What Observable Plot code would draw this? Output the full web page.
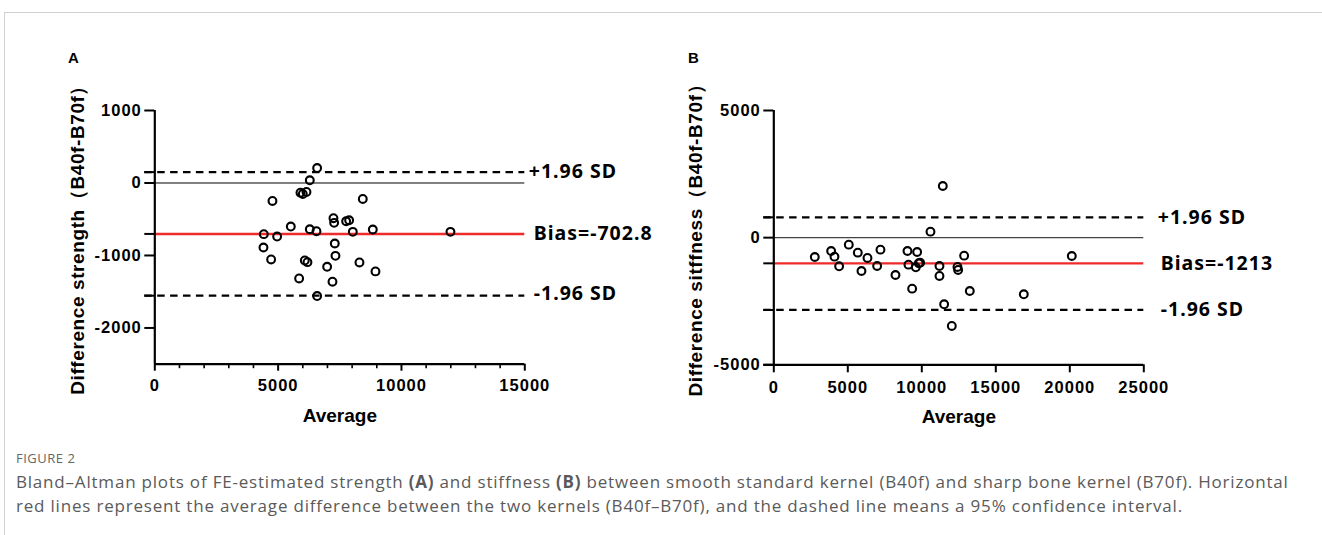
<!DOCTYPE html>
<html>
<head>
<meta charset="utf-8">
<script src="https://cdn.jsdelivr.net/npm/d3@7"></script>
<script src="https://cdn.jsdelivr.net/npm/@observablehq/plot@0.6"></script>
<style>
  html, body { margin: 0; padding: 0; background: #fff; }
  #root { position: relative; width: 1322px; height: 535px; overflow: hidden; background: #fff; }
  #frame { position: absolute; left: 4px; top: 12px; right: -2px; bottom: -2px; border-top: 1px solid #d0d0d0; border-left: 1px solid #d0d0d0; }
  .panel { position: absolute; top: 0; }
  .tag { position: absolute; top: 49px; font: bold 15px Arial, "Liberation Sans", sans-serif; color: #000; }
  #cap { position: absolute; left: 16px; top: 449px; font-family: "Open Sans", "Noto Sans", sans-serif; color: #555; }
  #cap .fig { font-size: 13px; color: #666; letter-spacing: 0.5px; }
  #cap .txt { font-size: 17px; line-height: 23.5px; margin-top: 3px; color: #5a5a5a; letter-spacing: 0.8px; }
  .panel svg g[aria-label="y-axis tick label"] text,
  .panel svg g[aria-label="x-axis tick label"] text { letter-spacing: 1px; }
  .panel svg .ytitle text { letter-spacing: 0.6px; }
  .panel svg .ann text { letter-spacing: 1px; }
</style>
</head>
<body>
<div id="root">
  <div id="frame"></div>
  <div class="tag" style="left:68px">A</div>
  <div class="tag" style="left:688px">B</div>
  <div id="panelA" class="panel" style="left:0px"></div>
  <div id="panelB" class="panel" style="left:660px"></div>
  <div id="cap">
    <div class="fig">FIGURE 2</div>
    <div class="txt">Bland–Altman plots of FE-estimated strength <b>(A)</b> and stiffness <b>(B)</b> between smooth standard kernel (B40f) and sharp bone kernel (B70f). Horizontal<br>red lines represent the average difference between the two kernels (B40f–B70f), and the dashed line means a 95% confidence interval.</div>
  </div>
</div>
<script>
// ---------- Panel A: strength ----------
const strengthAvg  = [6581, 6284, 5905, 6000, 6149, 4770, 8432, 5514, 7243, 7270, 7757, 7878, 6284, 6554, 4419, 4959, 8027, 8838, 11986, 4405, 7297, 4716, 7324, 6081, 6189, 6986, 8297, 8946, 5851, 7203, 6581];
const strengthDiff = [206, 37, -133, -151, -124, -248, -220, -601, -486, -550, -528, -514, -638, -665, -706, -739, -674, -642, -674, -890, -835, -1055, -1005, -1069, -1092, -1156, -1096, -1220, -1317, -1362, -1560];
const biasA = -702.8, upperA = 150, lowerA = -1555;
const labelsA = ["+1.96 SD", "Bias=-702.8", "-1.96 SD"];
const xTicksA = [0, 5000, 10000, 15000];
const xMinorA = [1000, 2000, 3000, 4000, 6000, 7000, 8000, 9000, 11000, 12000, 13000, 14000];
const yTicksA = [1000, 0, -1000, -2000];
const xDomainA = [0, 15000], yDomainA = [-2500, 1000];
const yTitleA = "Difference strength（B40f-B70f）";

// ---------- Panel B: stiffness ----------
const stiffAvg  = [11419, 10586, 5068, 3874, 5676, 7207, 9032, 9685, 2770, 4099, 6329, 12860, 20135, 4414, 5923, 6982, 9099, 9595, 9797, 9887, 8221, 11194, 11194, 12410, 12455, 9347, 13243, 11509, 16892, 12027];
const stiffDiff = [2031, 236, -275, -524, -590, -472, -524, -564, -760, -747, -799, -708, -721, -1127, -1311, -1114, -1062, -1166, -1009, -983, -1468, -1114, -1507, -1153, -1271, -2005, -2097, -2621, -2228, -3473];
const biasB = -1010, upperB = 800, lowerB = -2844;
const labelsB = ["+1.96 SD", "Bias=-1213", "-1.96 SD"];
const xTicksB = [0, 5000, 10000, 15000, 20000, 25000];
const yTicksB = [5000, 0, -5000];
const xDomainB = [0, 25000], yDomainB = [-5000, 5000];
const yTitleB = "Difference sitffness（B40f-B70f）";

const AX = "Arial, 'Liberation Sans', sans-serif";
const ANN = "'Noto Sans', 'Open Sans', sans-serif";

function panel(o) {
  const pts = o.xs.map((x, i) => ({x, y: o.ys[i]}));
  const [x0, x1] = o.xDomain, [y0, y1] = o.yDomain;
  const lineVals = [o.upper, o.bias, o.lower];
  const annMarks = o.labels.map((t, i) =>
    Plot.text([{x: x1, y: lineVals[i], t}], {
      x: "x", y: "y", text: "t", dx: o.annDx[i], dy: o.annDy[i],
      textAnchor: "start", lineAnchor: "middle", fontSize: 19.5, fontWeight: "bold",
      fontFamily: ANN, fill: "#000", className: "ann"
    })
  );
  return Plot.plot({
    width: o.width, height: o.height,
    marginLeft: o.ml, marginRight: o.mr, marginTop: o.mt, marginBottom: o.mb,
    x: {domain: o.xDomain}, y: {domain: o.yDomain},
    style: {fontFamily: AX, overflow: "visible", background: "transparent", color: "#000"},
    marks: [
      Plot.ruleY([0], {x1: x0, x2: x1, stroke: o.zeroColor, strokeWidth: o.zeroWidth}),
      Plot.ruleY([o.upper, o.lower], {x1: x0, x2: x1, insetLeft: -10, stroke: "#000", strokeWidth: 2.2, strokeDasharray: "7.5,5.4"}),
      Plot.ruleY([o.bias], {x1: x0, x2: x1, stroke: "#ee2a2a", strokeWidth: 2.4}),
      Plot.ruleY(lineVals, {x1: x0, x2: x0, insetLeft: -10, stroke: "#000", strokeWidth: 2}),
      Plot.ruleX([x0], {y1: y0, y2: y1, stroke: "#000", strokeWidth: 2.2}),
      Plot.ruleY([y0], {x1: x0, x2: x1, insetLeft: o.xAxisExt, stroke: "#000", strokeWidth: 2.2}),
      Plot.axisY({ticks: o.yTicks, tickSize: 10, tickPadding: 3, tickFormat: d => String(d), strokeWidth: 2, fontSize: 16.5, fontWeight: "bold", label: null}),
      Plot.axisX({ticks: o.xTicks, tickSize: o.xTickSize, tickPadding: 8, tickFormat: d => String(d), strokeWidth: 2, fontSize: 16.5, fontWeight: "bold", label: null}),
      o.xMinor ? Plot.ruleX(o.xMinor, {y1: y0, y2: y0, insetBottom: -4.5, stroke: "#000", strokeWidth: 1.6}) : null,
      Plot.dot(pts, {x: "x", y: "y", r: 3.9, stroke: "#000", strokeWidth: 2.1, fill: "none"}),
      ...annMarks,
      Plot.text(["Average"], {frameAnchor: "bottom", dy: 52, lineAnchor: "middle", textAnchor: "middle", fontSize: 19, fontWeight: "bold", fill: "#000"}),
      Plot.text([o.yTitle], {frameAnchor: "left", rotate: -90, dx: o.titleDx, dy: -2, lineAnchor: "middle", textAnchor: "middle", fontSize: 19, fontWeight: "bold", fill: "#000", className: "ytitle"})
    ].filter(Boolean)
  });
}

document.getElementById("panelA").append(panel({
  xs: strengthAvg, ys: strengthDiff, bias: biasA, upper: upperA, lower: lowerA, labels: labelsA,
  xTicks: xTicksA, xMinor: xMinorA, yTicks: yTicksA, xDomain: xDomainA, yDomain: yDomainA, yTitle: yTitleA,
  width: 660, height: 440, ml: 154.3, mr: 135.7, mt: 110, mb: 76.3,
  zeroColor: "#000", zeroWidth: 1, xTickSize: 7, xAxisExt: 0, titleDx: -77,
  annDx: [4, 9, 9], annDy: [0, 0, -2]
}));

document.getElementById("panelB").append(panel({
  xs: stiffAvg, ys: stiffDiff, bias: biasB, upper: upperB, lower: lowerB, labels: labelsB,
  xTicks: xTicksB, xMinor: null, yTicks: yTicksB, xDomain: xDomainB, yDomain: yDomainB, yTitle: yTitleB,
  width: 662, height: 440, ml: 113.3, mr: 178.7, mt: 110, mb: 75.7,
  zeroColor: "#444", zeroWidth: 1.3, xTickSize: 8, xAxisExt: -10, titleDx: -78,
  annDx: [14, 17, 17], annDy: [0, 0, 0]
}));
</script>
</body>
</html>
